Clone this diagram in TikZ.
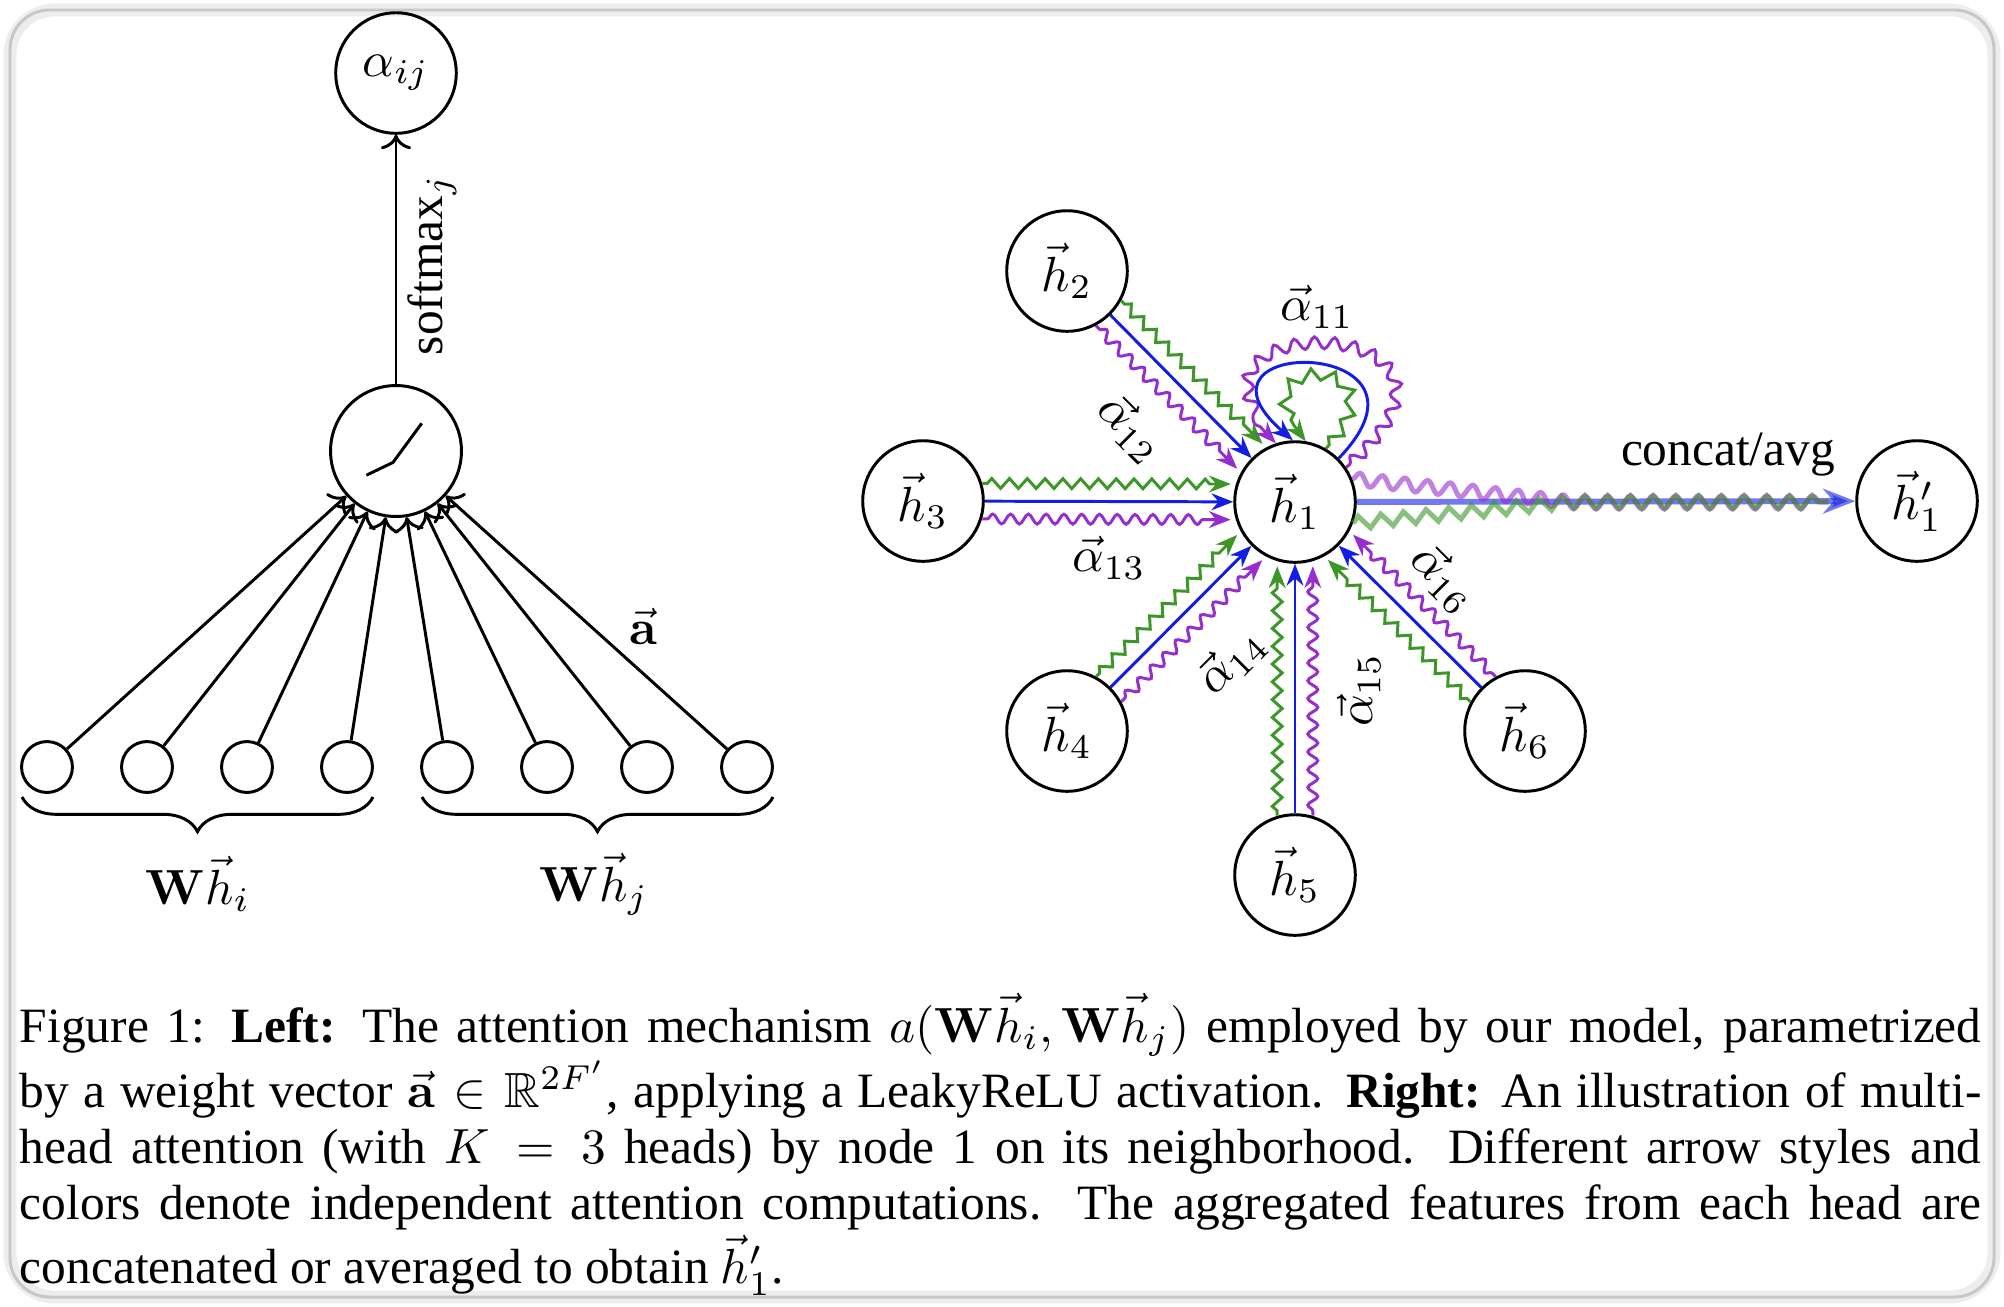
\documentclass[tikz,border=0pt]{standalone}
\usepackage{amsmath,amssymb}
\usepackage[no-math]{fontspec}
\setmainfont{Liberation Serif}
\usetikzlibrary{arrows.meta,decorations.pathmorphing,decorations.pathreplacing,calc}

\definecolor{hblue}{RGB}{20,30,225}
\definecolor{hgreen}{RGB}{60,150,40}
\definecolor{hpurple}{RGB}{150,45,205}

\tikzset{
  unit/.style={circle, draw, semithick, minimum size=24.4pt, inner sep=0pt},
  inp/.style={circle, draw, semithick, minimum size=10.3pt, inner sep=0pt},
  feed/.style={semithick, ->},
  tipc/.style={-{Stealth[length=4.4pt,width=3.4pt]}},
  headblue/.style={hblue, semithick, tipc},
  headgreen/.style={hgreen, semithick, tipc, decorate,
    decoration={zigzag, segment length=3.6pt, amplitude=1pt, pre length=1pt, post length=4pt}},
  headpurple/.style={hpurple, semithick, tipc, decorate,
    decoration={snake, segment length=3.6pt, amplitude=1pt, pre length=1pt, post length=4pt}},
  ubrace/.style={semithick, decorate, decoration={brace, mirror, amplitude=7pt}},
}

\begin{document}
\begin{tikzpicture}[x=0.2024pt, y=-0.2024pt]
\useasboundingbox (0,0) rectangle (2004,1306);
\fill[white] (0,0) rectangle (2004,1306);
% card frame
\draw[black!7, line width=2.6pt, rounded corners=9pt] (10,10) rectangle (1994,1297);
\draw[black!22, line width=0.6pt, rounded corners=8pt] (10,10) rectangle (1994,1297);

% ---------- left: attention mechanism ----------
\node[unit] (aij) at (396,73) {$\alpha_{ij}$};
\node[unit, minimum size=26.5pt] (relu) at (396,451) {};
\draw[semithick] ([shift={(-6pt,-4.9pt)}]relu.center) -- ([shift={(-0.6pt,-2.3pt)}]relu.center) -- ([shift={(5.2pt,5.6pt)}]relu.center);
\draw[feed] (relu) -- (aij);
\node[rotate=90] (smx) at (432,265) {softmax$_j$};
\foreach \k in {1,...,8} {
  \node[inp] (s\k) at ({47+100*(\k-1)},767) {};
  \draw[feed] (s\k) -- (relu);
}
\node (avec) at (643,626) {$\vec{\mathbf{a}}$};
\draw[ubrace] (22,797) -- (373,797);
\draw[ubrace] (422,797) -- (773,797);
\node (whi) at (198,884) {$\mathbf{W}\vec{h}_i$};
\node (whj) at (594,884) {$\mathbf{W}\vec{h}_j$};

% ---------- right: multi-head attention ----------
\node[unit] (h1) at (1295,502) {$\vec h_1$};
\node[unit] (h2) at (1067,271) {$\vec h_2$};
\node[unit] (h3) at (923,501) {$\vec h_3$};
\node[unit] (h4) at (1067,731) {$\vec h_4$};
\node[unit] (h5) at (1295,875) {$\vec h_5$};
\node[unit] (h6) at (1525,731) {$\vec h_6$};
\node[unit] (h1p) at (1917,501) {$\vec h'_1$};

\foreach \n in {h2,h3,h4,h5,h6} {
  \draw[headblue] (\n) -- (h1);
  \draw[headgreen] ($(\n)!12pt!(h1)!3.6pt!90:(h1)$) -- ($(h1)!13pt!(\n)!3.6pt!-90:(\n)$);
  \draw[headpurple] ($(\n)!12pt!(h1)!3.6pt!-90:(h1)$) -- ($(h1)!13pt!(\n)!3.6pt!90:(\n)$);
}

% self attention loops
\draw[headpurple, decoration={snake, segment length=4pt, amplitude=1.2pt, pre length=1pt, post length=4pt}]
  (h1.34) .. controls +(175,-156) and +(-142,-135) .. (h1.108);
\draw[headblue] (h1.45) .. controls +(118,-122) and +(-122,-106) .. (h1.92);
\draw[headgreen, decoration={zigzag, segment length=4.4pt, amplitude=1.2pt, pre length=1pt, post length=4pt}]
  (h1.60) .. controls +(90,-95) and +(-80,-92) .. (h1.80);

\node (a11) at (1317,307) {$\vec\alpha_{11}$};
\node[rotate=-45] (a12) at (1131,428) {$\vec\alpha_{12}$};
\node (a13) at (1109,558) {$\vec\alpha_{13}$};
\node[rotate=45] (a14) at (1231,661) {$\vec\alpha_{14}$};
\node[rotate=90] (a15) at (1359,690) {$\vec\alpha_{15}$};
\node[rotate=-45] (a16) at (1444,578) {$\vec\alpha_{16}$};

% aggregation of the heads
\coordinate (mrg) at (1570,502);
\coordinate (cend) at (1828,502);
\draw[hblue, very thick, opacity=.6, -{Stealth[length=6.5pt,width=5pt]}] (h1) -- (h1p);
\draw[hpurple, line width=1pt, opacity=.6, decorate,
  decoration={snake, segment length=4.6pt, amplitude=1.3pt}] (h1.22) -- (mrg) -- (cend);
\draw[hgreen, line width=1pt, opacity=.6, decorate,
  decoration={zigzag, segment length=4.6pt, amplitude=1.3pt}] (h1.-20) -- (mrg) -- (cend);
\node (cat) at (1728,455) {concat/avg};

% ---------- caption ----------
\node[anchor=base west, inner sep=0pt] (cap) at (19,1042) {\parbox[t]{397pt}{\fontsize{10}{11.3}\selectfont
Figure 1: \textbf{Left:} The attention mechanism $a(\mathbf{W}\vec{h}_i, \mathbf{W}\vec{h}_j)$ employed by our model, parametrized\linebreak
by a weight vector $\vec{\mathbf{a}} \in \mathbb{R}^{2F'}$, applying a LeakyReLU activation. \textbf{Right:} An illustration of multi-\linebreak
head attention (with $K = 3$ heads) by node 1 on its neighborhood.  Different arrow styles and\linebreak
colors denote independent attention computations.  The aggregated features from each head are\linebreak
concatenated or averaged to obtain $\vec{h}'_1$.}};
\end{tikzpicture}
\end{document}
